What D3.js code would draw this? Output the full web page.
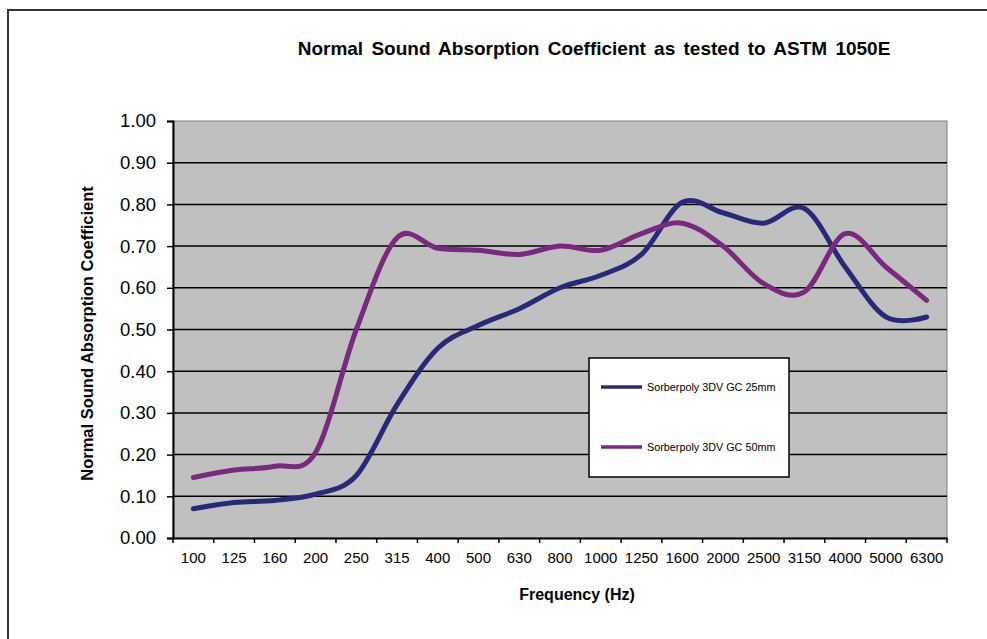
<!DOCTYPE html>
<html>
<head>
<meta charset="utf-8">
<script src="https://cdn.jsdelivr.net/npm/d3@7"></script>
<style>
  body { margin: 0; background: #fff; }
  svg text { font-family: "Liberation Sans", Arial, sans-serif; fill: #000; }
</style>
</head>
<body>
<svg id="chart" width="987" height="639"></svg>
<script>
const frequencies = ["100","125","160","200","250","315","400","500","630","800","1000","1250","1600","2000","2500","3150","4000","5000","6300"];
const gc25 = [0.07,0.085,0.09,0.105,0.15,0.32,0.455,0.51,0.55,0.60,0.63,0.68,0.805,0.78,0.755,0.79,0.65,0.53,0.53];
const gc50 = [0.145,0.163,0.172,0.205,0.50,0.72,0.695,0.69,0.68,0.70,0.69,0.73,0.755,0.70,0.61,0.59,0.73,0.65,0.57];
const seriesNames = ["Sorberpoly 3DV GC 25mm", "Sorberpoly 3DV GC 50mm"];
const yTicks = [0,0.1,0.2,0.3,0.4,0.5,0.6,0.7,0.8,0.9,1.0];

const colors = ["#29297a", "#7b297e"];
const series = [gc25, gc50];

const svg = d3.select('#chart');
const plot = { left: 173, right: 947, top: 121, bottom: 538 };

// outer chart border
svg.append('rect')
  .attr('x', 8).attr('y', 10)
  .attr('width', 1000).attr('height', 700)
  .attr('fill', '#fff')
  .attr('stroke', '#333').attr('stroke-width', 2);

const x = d3.scaleBand().domain(frequencies).range([plot.left, plot.right]);
const y = d3.scaleLinear().domain([0, 1]).range([plot.bottom, plot.top]);

svg.append('rect')
  .attr('x', plot.left).attr('y', plot.top)
  .attr('width', plot.right - plot.left).attr('height', plot.bottom - plot.top)
  .attr('fill', '#c0c0c0')
  .attr('stroke', '#808080').attr('stroke-width', 1);

// gridlines
svg.append('g').selectAll('line')
  .data(yTicks.filter(d => d > 0 && d < 1))
  .join('line')
  .attr('x1', plot.left).attr('x2', plot.right)
  .attr('y1', d => y(d)).attr('y2', d => y(d))
  .attr('stroke', '#000').attr('stroke-width', 1.5);

// y axis
const yAxis = svg.append('g')
  .attr('transform', `translate(${plot.left},0)`)
  .call(d3.axisLeft(y).tickValues(yTicks).tickFormat(d3.format('.2f')).tickSize(6).tickPadding(11));
yAxis.select('.domain').attr('stroke', '#000').attr('stroke-width', 2);
yAxis.selectAll('.tick line').attr('stroke', '#000').attr('stroke-width', 1.5);
yAxis.selectAll('.tick text').style('font-size', '18.5px').style('font-family', '"Liberation Sans", Arial, sans-serif');

// x axis: ticks on category boundaries
const xAxis = svg.append('g')
  .attr('transform', `translate(0,${plot.bottom})`)
  .call(d3.axisBottom(x).tickSize(0).tickPadding(14));
xAxis.select('.domain').attr('stroke', '#000').attr('stroke-width', 2);
xAxis.selectAll('.tick text').style('font-size', '15px').style('font-family', '"Liberation Sans Narrow", "Liberation Sans", Arial, sans-serif');
xAxis.selectAll('line.bound')
  .data(frequencies.map(f => x(f)).concat([plot.right]))
  .join('line')
  .attr('class', 'bound')
  .attr('x1', d => d).attr('x2', d => d)
  .attr('y1', 0).attr('y2', 5)
  .attr('stroke', '#000').attr('stroke-width', 1.5);

// lines
const line = d3.line()
  .x((d, i) => x(frequencies[i]) + x.bandwidth() / 2)
  .y(d => y(d))
  .curve(d3.curveCatmullRom.alpha(0));

svg.append('g').selectAll('path')
  .data(series)
  .join('path')
  .attr('d', d => line(d))
  .attr('fill', 'none')
  .attr('stroke', (d, i) => colors[i])
  .attr('stroke-width', 5)
  .attr('stroke-linecap', 'round')
  .attr('stroke-linejoin', 'round');

// titles
svg.append('text')
  .attr('x', 594).attr('y', 55)
  .attr('text-anchor', 'middle')
  .style('font-size', '19px').style('font-weight', 'bold')
  .style('word-spacing', '3px')
  .text('Normal Sound Absorption Coefficient as tested to ASTM 1050E');

svg.append('text')
  .attr('x', 577).attr('y', 600)
  .attr('text-anchor', 'middle')
  .style('font-size', '16px').style('font-weight', 'bold')
  .text('Frequency (Hz)');

svg.append('text')
  .attr('transform', `translate(93,${(plot.top + plot.bottom) / 2 + 4}) rotate(-90)`)
  .attr('text-anchor', 'middle')
  .style('font-size', '16.5px').style('font-weight', 'bold')
  .text('Normal Sound Absorption Coefficient');

// legend
const legend = svg.append('g');
legend.append('rect')
  .attr('x', 589).attr('y', 358)
  .attr('width', 200).attr('height', 119)
  .attr('fill', '#fff')
  .attr('stroke', '#000').attr('stroke-width', 1.5);

const legendItems = legend.selectAll('g.item')
  .data(seriesNames)
  .join('g')
  .attr('class', 'item')
  .attr('transform', (d, i) => `translate(0,${387 + i * 60})`);
legendItems.append('line')
  .attr('x1', 601).attr('x2', 642)
  .attr('stroke', (d, i) => colors[i])
  .attr('stroke-width', 3.5);
legendItems.append('text')
  .attr('x', 647).attr('y', 4)
  .style('font-size', '10.8px')
  .text(d => d);
</script>
</body>
</html>
